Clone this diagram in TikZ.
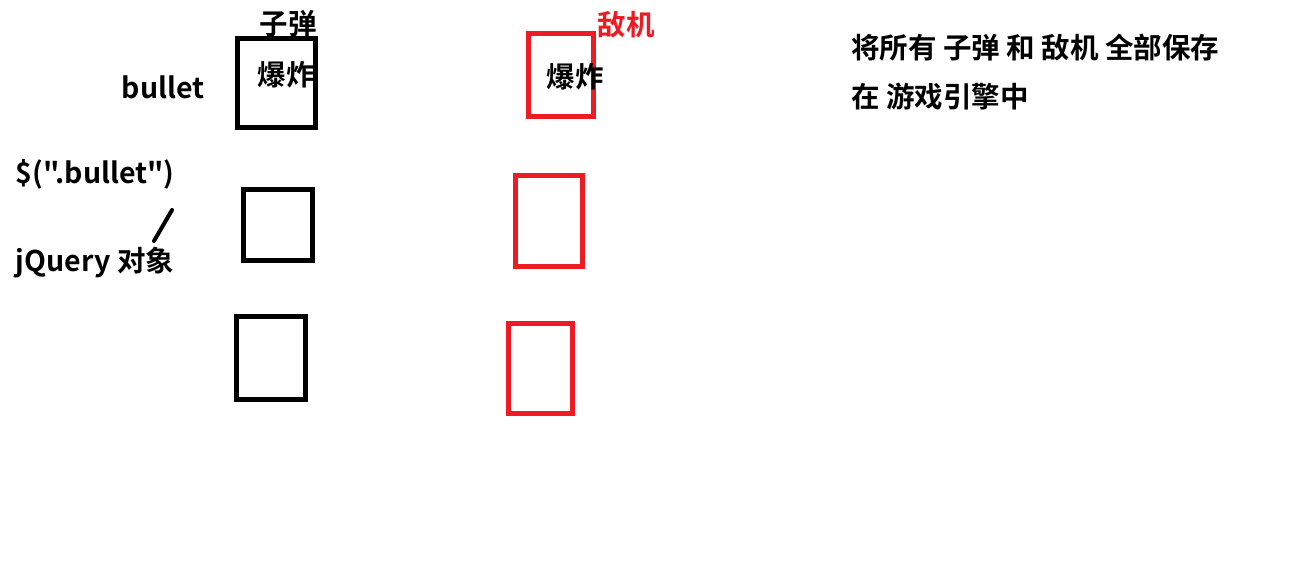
\documentclass[tikz,border=0pt]{standalone}
\usepackage{fontspec}
\setmainfont{Noto Sans CJK SC}[BoldFont={Noto Sans CJK SC Bold},Ligatures=TeXOff]
\definecolor{pred}{HTML}{ED1C24}
\begin{document}
\begin{tikzpicture}[x=1pt,y=-1pt,
  bbox/.style={draw=black,line width=5pt},
  rbox/.style={draw=pred,line width=5pt},
  lbl/.style={inner sep=0pt,font=\fontsize{28.5}{33}\selectfont\bfseries},
  rlbl/.style={lbl,text=pred}]
\path[use as bounding box,fill=white] (0,0) rectangle (1299,577);
% black boxes
\draw[bbox] (237.5,38.5) rectangle (315.5,127.5);
\draw[bbox] (243.5,189.5) rectangle (312.5,260.5);
\draw[bbox] (236.5,316.5) rectangle (305.5,399.5);
% red boxes
\draw[rbox] (528.5,33.5) rectangle (593.5,116.5);
\draw[rbox] (515.5,175.5) rectangle (582.5,266.5);
\draw[rbox] (508.5,323.5) rectangle (572.5,413.5);
% labels
\node[lbl] (zidan) at (288,24) {子弹};
\node[lbl] (bz1) at (286,75) {爆炸};
\node[lbl] (bullet) at (163,87) {bullet};
\node[rlbl] (diji) at (626,25) {敌机};
\node[lbl] (bz2) at (575,77) {爆炸};
\node[lbl] (sel) at (95,174) {\$(".bullet")};
\node[lbl] (jq) at (95,263) {jQuery 对象};
\coordinate (s1) at (172,210);
\coordinate (s2) at (154,241);
\draw[line width=4pt,line cap=round] (s1) -- (s2);
\node[lbl,anchor=west] (r1) at (851,48) {将所有 子弹 和 敌机 全部保存};
\node[lbl,anchor=west] (r2) at (851,97) {在 游戏引擎中};
\end{tikzpicture}
\end{document}
